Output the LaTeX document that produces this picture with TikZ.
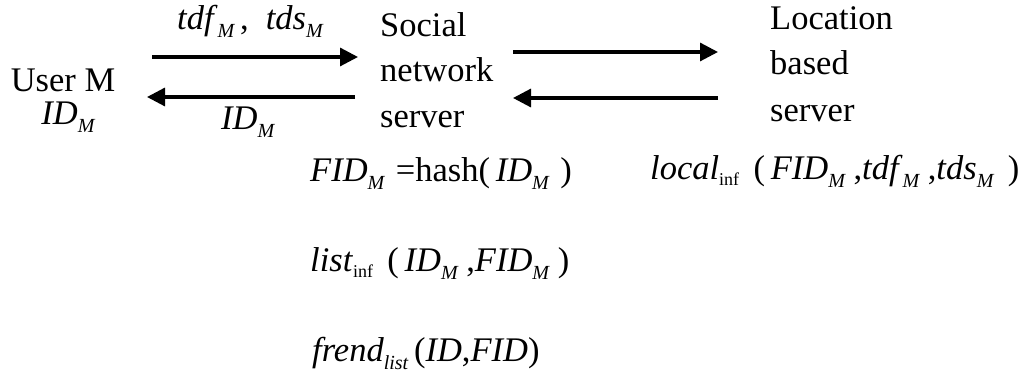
\documentclass[tikz,border=0pt]{standalone}
\usepackage{fontspec}
\setmainfont{Liberation Serif}
\usetikzlibrary{arrows.meta}
% italic subscript and small upright subscript
\newcommand{\lsub}[1]{\raisebox{-8pt}{\fontsize{20}{20}\selectfont\itshape #1}}
\newcommand{\usub}[1]{\raisebox{-6pt}{\fontsize{18}{18}\selectfont\upshape #1}}
\begin{document}
\begin{tikzpicture}[x=1pt,y=-1pt,
  txt/.style={inner sep=0pt,anchor=base,font=\fontsize{34.5}{45}\selectfont},
  ltxt/.style={txt,anchor=base west},
  msg/.style={line width=3.2pt,-{Triangle[length=18pt,width=18pt]}}]
\useasboundingbox (0,0) rectangle (1029,379);

% parties
\node[txt] (user) at (63,92) {User M};
\node[txt] (userid) at (68,125) {\textit{ID}\lsub{M}};
\node[ltxt] (sns1) at (380,37) {Social};
\node[ltxt] (sns2) at (380,82) {network};
\node[ltxt] (sns3) at (380,128) {server};
\node[ltxt] (lbs1) at (770,30) {Location};
\node[ltxt] (lbs2) at (770,75) {based};
\node[ltxt] (lbs3) at (770,122) {server};

% message end points
\coordinate (u1) at (152,57);
\coordinate (s1) at (358,57);
\coordinate (s2) at (355,97);
\coordinate (u2) at (147,97);
\coordinate (s3) at (513,52);
\coordinate (l3) at (718,52);
\coordinate (l4) at (718,98);
\coordinate (s4) at (513,98);

\draw[msg] (u1) -- (s1);
\draw[msg] (s2) -- (u2);
\draw[msg] (s3) -- (l3);
\draw[msg] (l4) -- (s4);

% message labels
\node[ltxt] (m1) at (177,30) {\textit{tdf}\lsub{M}\,,\ \ \textit{tds}\lsub{M}};
\node[ltxt] (m2) at (221,130) {\textit{ID}\lsub{M}};

% stored data
\node[ltxt] (fid) at (310,182) {\textit{FID}\lsub{M}\,\,=hash(\,\textit{ID}\lsub{M}\,\,)};
\node[ltxt] (list) at (310,272) {\textit{list}\usub{inf}\ \,(\,\textit{ID}\lsub{M}\ ,\textit{FID}\lsub{M}\ )};
\node[ltxt] (frend) at (312,362) {\textit{frend}\lsub{list}\,(\textit{ID},\textit{FID})};
\node[ltxt] (loc) at (650,180) {\textit{local}\usub{inf}\ \,(\,\textit{FID}\lsub{M}\ ,\textit{tdf}\lsub{M}\ ,\textit{tds}\lsub{M}\ \,)};
\end{tikzpicture}
\end{document}
